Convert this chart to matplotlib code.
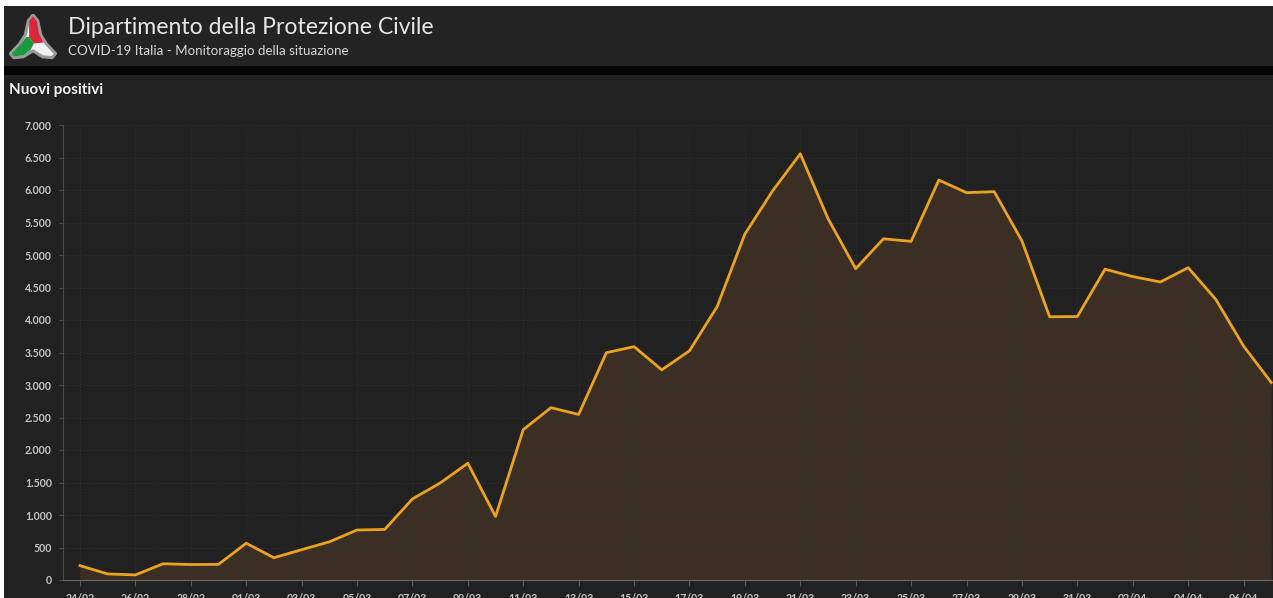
import matplotlib
matplotlib.use("Agg")
import matplotlib.pyplot as plt
import matplotlib.patches as mpatches
from matplotlib.ticker import FuncFormatter
import pandas as pd

# ---- data ----
dates = ["24/02", "25/02", "26/02", "27/02", "28/02", "29/02",
         "01/03", "02/03", "03/03", "04/03", "05/03", "06/03", "07/03", "08/03",
         "09/03", "10/03", "11/03", "12/03", "13/03", "14/03", "15/03", "16/03",
         "17/03", "18/03", "19/03", "20/03", "21/03", "22/03", "23/03", "24/03",
         "25/03", "26/03", "27/03", "28/03", "29/03", "30/03", "31/03",
         "01/04", "02/04", "03/04", "04/04", "05/04", "06/04", "07/04"]
nuovi_positivi = [221, 93, 78, 250, 238, 240,
                  566, 342, 466, 587, 769, 778, 1247, 1492,
                  1797, 977, 2313, 2651, 2547, 3497, 3590, 3233,
                  3526, 4207, 5322, 5986, 6557, 5560, 4789, 5249,
                  5210, 6153, 5959, 5974, 5217, 4050, 4053,
                  4782, 4668, 4585, 4805, 4316, 3599, 3039]
y_ticks = [0, 500, 1000, 1500, 2000, 2500, 3000, 3500, 4000, 4500, 5000, 5500, 6000, 6500, 7000]

title = "Dipartimento della Protezione Civile"
subtitle = "COVID-19 Italia - Monitoraggio della situazione"
chart_title = "Nuovi positivi"

# ---- figure ----
W, H = 1273, 598
fig = plt.figure(figsize=(W / 100, H / 100), dpi=100)
fig.patch.set_facecolor("#212121")

def fy(py):
    return 1 - py / H

def fx(px):
    return px / W

# header background pieces (drawn below everything else)
for (x0, y0, w, h, c) in [(0, fy(66), 1, (66 - 6) / H, "#232323"),
                          (0, fy(75), 1, (75 - 66) / H, "#050505"),
                          (0, fy(6), 1, 6 / H, "#ffffff"),
                          (0, 0, fx(4), 1, "#ffffff")]:
    fig.patches.append(mpatches.Rectangle((x0, y0), w, h, transform=fig.transFigure,
                                          facecolor=c, edgecolor="none", zorder=-5))

# logo
lax = fig.add_axes([fx(9), fy(60), fx(48), (60 - 14) / H])
lax.set_xlim(0, 1)
lax.set_ylim(0, 1)
lax.axis("off")
outer = [(0.5, 0.98), (0.6, 0.85), (0.66, 0.55), (0.78, 0.35), (0.97, 0.14), (0.9, 0.05),
         (0.7, 0.07), (0.5, 0.2), (0.3, 0.07), (0.1, 0.05), (0.03, 0.14), (0.22, 0.35),
         (0.34, 0.55), (0.4, 0.85)]
lax.add_patch(mpatches.Polygon(outer, closed=True, facecolor="#f2f2f2", edgecolor="#9a9a9a",
                               linewidth=2.2, joinstyle="round"))
red = [(0.5, 0.95), (0.58, 0.84), (0.63, 0.56), (0.72, 0.38), (0.52, 0.36), (0.42, 0.5),
       (0.42, 0.84)]
lax.add_patch(mpatches.Polygon(red, closed=True, facecolor="#d8263a", edgecolor="none"))
green = [(0.42, 0.5), (0.52, 0.36), (0.45, 0.22), (0.3, 0.1), (0.1, 0.08), (0.06, 0.14),
         (0.24, 0.34), (0.36, 0.5)]
lax.add_patch(mpatches.Polygon(green, closed=True, facecolor="#1e9a3e", edgecolor="none"))

# header texts
fig.text(fx(68), fy(27), title, fontsize=16.6, color="#e6e6e6", family="Lato",
         ha="left", va="center")
fig.text(fx(68), fy(51), subtitle, fontsize=9.6, color="#d8d8d8", family="Lato",
         ha="left", va="center")
fig.text(fx(9), fy(90), chart_title, fontsize=11, color="#f2f2f2", family="Lato",
         weight="bold", ha="left", va="center")

# ---- chart ----
x = pd.to_datetime([d + "/2020" for d in dates], format="%d/%m/%Y")
ax = fig.add_axes([fx(63), fy(580), 1 - fx(63), (580 - 125) / H])
ax.set_facecolor("#212121")

ax.fill_between(x, nuovi_positivi, 0, color="#3a2f22", linewidth=0, zorder=1)
ax.plot(x, nuovi_positivi, color="#eba21e", linewidth=2, zorder=3, solid_joinstyle="round")

ax.set_ylim(0, 7000)
ax.set_xlim(x[0] - pd.Timedelta(hours=14.7), x[-1] + pd.Timedelta(hours=1.5))

ax.set_yticks(y_ticks)
ax.yaxis.set_major_formatter(FuncFormatter(lambda v, p: f"{int(v):,}".replace(",", ".")))
ax.set_xticks(x[::2])
ax.set_xticklabels([d for d in dates[::2]])

ax.grid(True, color="#343434", linestyle=(0, (1, 2)), linewidth=0.7)
for s in ["top", "right"]:
    ax.spines[s].set_visible(False)
ax.spines["left"].set_color("#4a4a4a")
ax.spines["bottom"].set_color("#6a6a6a")
ax.tick_params(axis="y", length=3, color="#4a4a4a", labelcolor="#c4c4c4", labelsize=7.6, pad=5)
ax.tick_params(axis="x", length=4, color="#5a5a5a", labelcolor="#c4c4c4", labelsize=7.6, pad=5)
for lab in ax.get_xticklabels() + ax.get_yticklabels():
    lab.set_family("Lato")
    lab.set_weight("bold")

fig.savefig("out.png", dpi=100, facecolor=fig.get_facecolor())
